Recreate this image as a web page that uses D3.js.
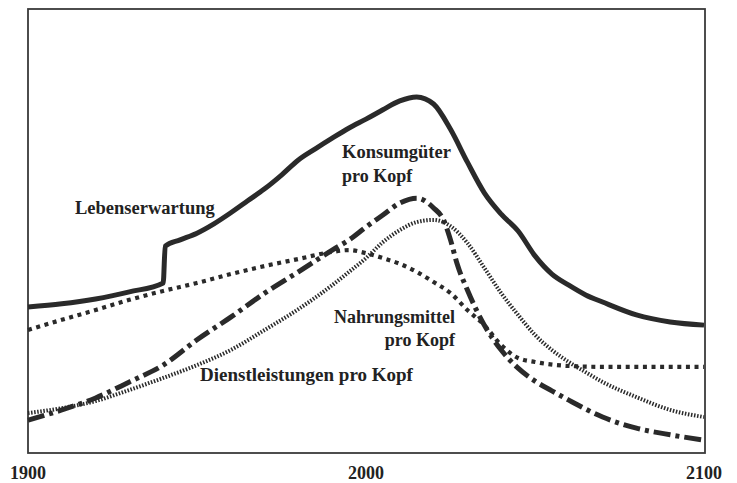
<!DOCTYPE html>
<html>
<head>
<meta charset="utf-8">
<script src="https://cdn.jsdelivr.net/npm/d3@7"></script>
<style>
  html, body { margin: 0; padding: 0; background: #fff; }
  svg { display: block; }
</style>
</head>
<body>
<svg id="chart" width="737" height="483"></svg>
<script>
// ---- data (arbitrary relative units, 0..100) ----
const lifeYears = [1900,1910,1920,1930,1940,1940.6,1945,1950,1955,1960,1965,1970,1975,1980,1985,1990,1995,2000,2005,2010,2015,2020,2025,2030,2035,2040,2045,2050,2055,2060,2065,2070,2080,2090,2100];
const lifeValues = [32.9,33.6,34.7,36.3,38.3,46.6,48.0,49.5,51.6,54.1,56.8,59.5,62.6,66.0,68.5,70.9,73.2,75.2,77.3,79.3,80.2,78.6,72.9,65.5,58.6,53.8,50.0,44.4,40.3,37.8,35.6,34.0,31.1,29.5,28.8];

const foodYears = [1900,1910,1920,1930,1940,1950,1960,1970,1980,1990,1995,2000,2005,2010,2015,2020,2025,2030,2035,2040,2045,2050,2060,2070,2080,2090,2100];
const foodValues = [27.7,30.0,32.2,34.5,36.5,38.3,40.3,42.1,43.7,45.3,45.7,45.0,43.9,42.6,40.8,38.5,36.0,32.2,28.8,24.3,21.4,20.5,19.6,19.4,19.4,19.4,19.4];

const goodsYears = [1900,1910,1920,1930,1940,1950,1960,1970,1980,1990,1995,2000,2005,2010,2015,2020,2023,2025,2027,2030,2035,2040,2045,2050,2055,2060,2070,2080,2090,2100];
const goodsValues = [7.4,9.7,12.4,16.0,19.8,25.5,30.6,36.0,40.8,45.7,48.0,50.9,53.6,56.3,57.4,55.2,52.4,48.0,42.5,36.7,28.8,23.2,19.1,16.2,14.0,11.9,8.1,5.6,4.1,2.9];

const servYears = [1900,1910,1920,1930,1940,1950,1960,1970,1980,1990,1995,2000,2005,2010,2015,2020,2025,2030,2035,2040,2045,2050,2055,2060,2065,2070,2080,2090,2100];
const servValues = [9.0,10.1,11.7,14.2,16.9,19.8,23.2,27.7,32.4,37.8,40.8,43.9,47.5,50.2,52.0,52.5,51.1,47.3,41.7,36.0,31.1,26.6,23.2,20.5,18.2,16.0,12.6,9.7,8.1];

const tickYears = [1900, 2000, 2100];
const tickLabels = ["1900", "2000", "2100"];

// ---- layout ----
const svg = d3.select("#chart");
const plotLeft = 28, plotRight = 704, plotTop = 9, plotBottom = 453;
const x = d3.scaleLinear().domain([1900, 2100]).range([plotLeft, plotRight]);
const y = d3.scaleLinear().domain([0, 100]).range([plotBottom, plotTop]);
const ink = "#2a2a2a";

// frame
svg.append("rect")
  .attr("x", plotLeft).attr("y", plotTop)
  .attr("width", plotRight - plotLeft + 1).attr("height", plotBottom - plotTop)
  .attr("fill", "none").attr("stroke", "#3a3a3a").attr("stroke-width", 1.8);

const line = d3.line().x(p => x(p[0])).y(p => y(p[1])).curve(d3.curveMonotoneX);
const zip = (a, b) => a.map((v, i) => [v, b[i]]);

const series = [
  { data: zip(servYears, servValues), width: 4, dash: "1.5,1.6" },
  { data: zip(foodYears, foodValues), width: 4.2, dash: "4,4.6" },
  { data: zip(goodsYears, goodsValues), width: 5, dash: "17,5,4,5" },
  { data: zip(lifeYears, lifeValues), width: 5, dash: null }
];

series.forEach(s => {
  svg.append("path")
    .datum(s.data)
    .attr("d", line)
    .attr("fill", "none")
    .attr("stroke", ink)
    .attr("stroke-width", s.width)
    .attr("stroke-linejoin", "round")
    .attr("stroke-linecap", "butt")
    .attr("stroke-dasharray", s.dash);
});

// axis labels
const font = "'Liberation Serif', 'DejaVu Serif', serif";
svg.selectAll("text.tick")
  .data(tickYears)
  .enter().append("text")
  .attr("class", "tick")
  .attr("x", v => x(v))
  .attr("y", 479)
  .attr("text-anchor", "middle")
  .attr("font-family", font)
  .attr("font-weight", "bold")
  .attr("font-size", 18)
  .attr("fill", "#222")
  .text((v, i) => tickLabels[i]);

// series labels
function label(xp, yp, txt, anchor, size) {
  return svg.append("text")
    .attr("x", xp).attr("y", yp)
    .attr("text-anchor", anchor || "start")
    .attr("font-family", font)
    .attr("font-weight", "bold")
    .attr("font-size", size || 18)
    .attr("fill", "#222")
    .text(txt);
}
label(75, 214, "Lebenserwartung", "start", 18.5);
label(342, 158, "Konsumgüter", "start", 18.5);
label(342, 182, "pro Kopf");
label(455, 323, "Nahrungsmittel", "end");
label(455, 346, "pro Kopf", "end");
label(200, 381, "Dienstleistungen pro Kopf", "start", 19);
</script>
</body>
</html>
